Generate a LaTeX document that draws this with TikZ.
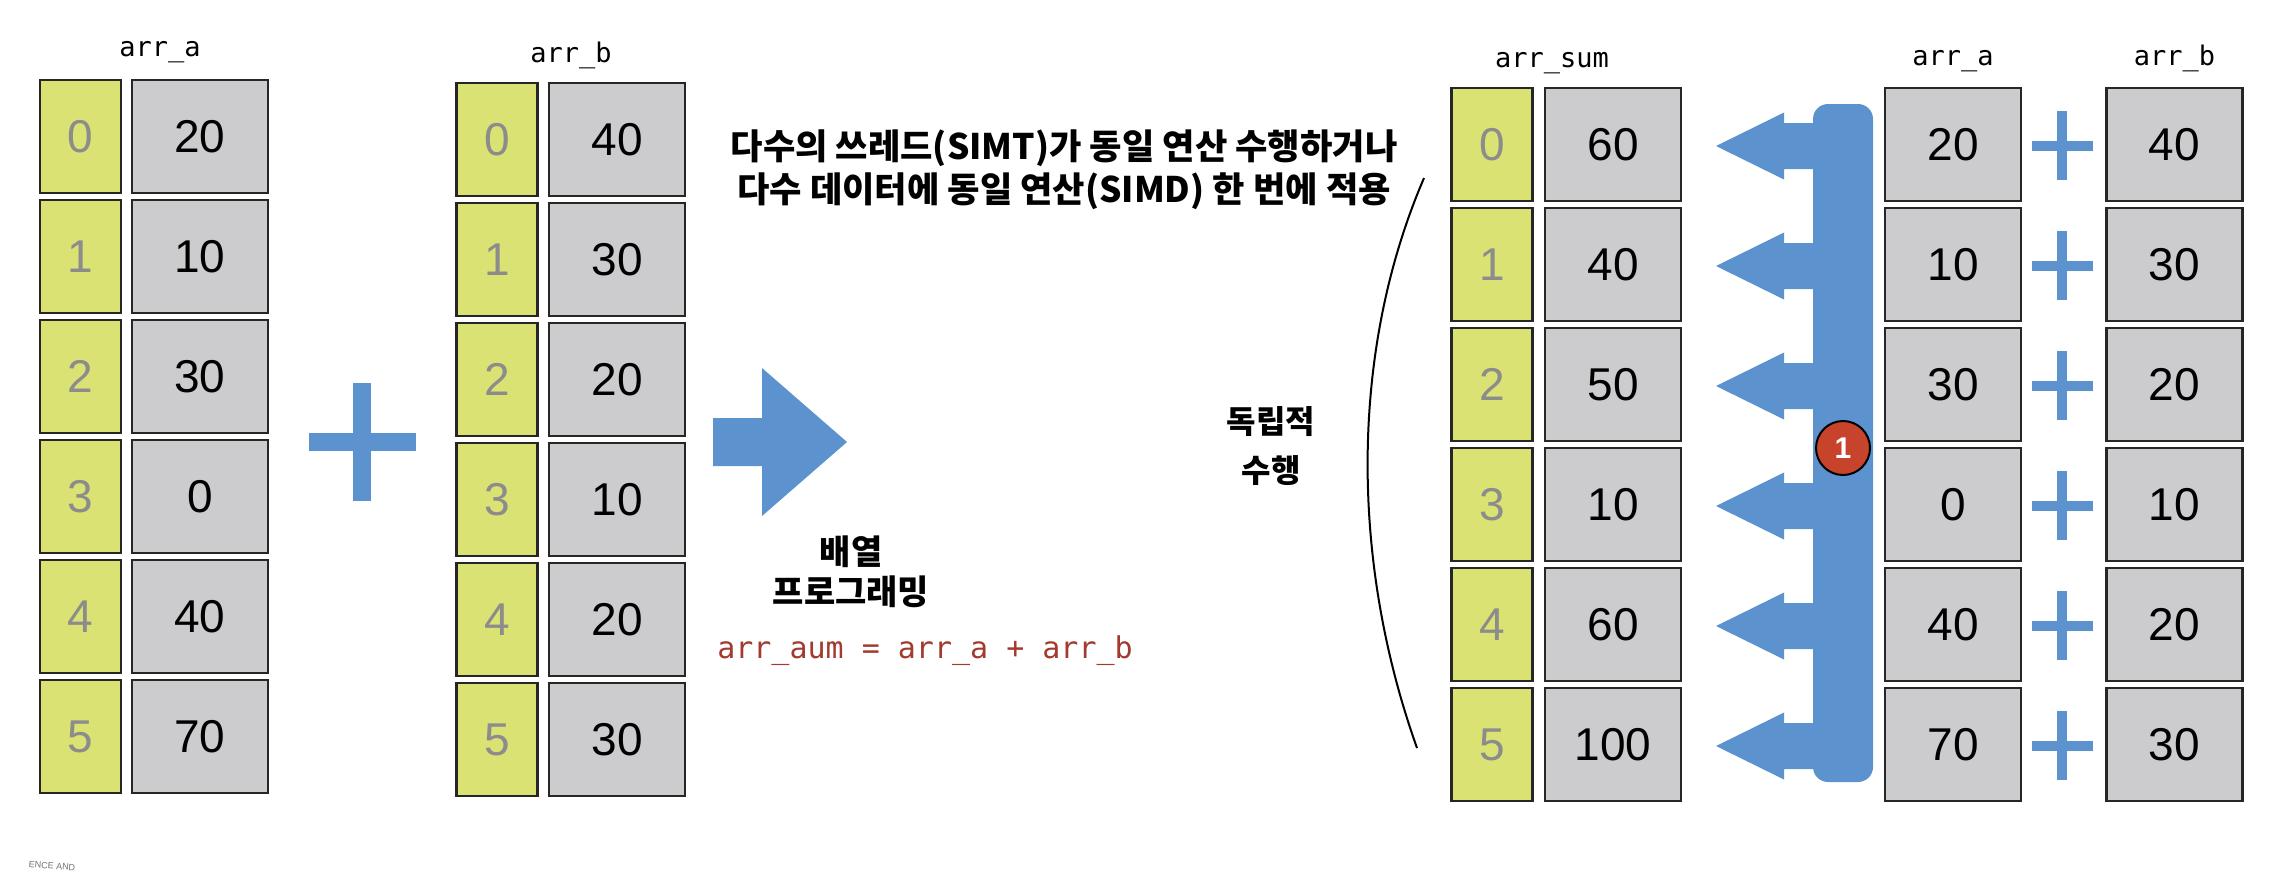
\documentclass[tikz,border=0pt]{standalone}
\usepackage{fontspec}
\setmainfont{Liberation Sans}
\setmonofont{DejaVu Sans Mono}
\newfontfamily\kr{Noto Sans CJK KR}
\usetikzlibrary{positioning, calc}

\definecolor{idxyellow}{RGB}{217,226,114}
\definecolor{cellgray}{RGB}{204,204,206}
\definecolor{opblue}{RGB}{92,147,206}
\definecolor{codered}{RGB}{163,58,48}
\definecolor{badgered}{RGB}{200,67,43}
\definecolor{idxgray}{RGB}{140,140,140}

\begin{document}
\begin{tikzpicture}[
    x=0.5pt, y=-0.5pt,
    idxcell/.style={
        draw=black!85,
        line width=1.3pt,
        fill=idxyellow,
        minimum width=40.5pt,
        minimum height=56.5pt,
        inner sep=0pt,
        text=idxgray,
        font=\fontsize{23}{23}\selectfont
    },
    valcell/.style={
        idxcell,
        fill=cellgray,
        minimum width=68pt,
        text=black
    },
    arrlabel/.style={
        font=\ttfamily\fontsize{13.5}{14}\selectfont,
        inner sep=1pt
    },
    krtext/.style={
        font=\kr\bfseries\fontsize{17.6}{21.5}\selectfont,
        align=center,
        inner sep=0pt
    },
    plusbar/.style={opblue, line width=9pt},
    smallplus/.style={opblue, line width=5.25pt},
    fatarrow/.style={fill=opblue},
    badge/.style={
        circle,
        draw=black,
        line width=1pt,
        fill=badgered,
        minimum size=27pt,
        inner sep=0pt,
        text=white,
        font=\bfseries\fontsize{15}{15}\selectfont
    }
]
\useasboundingbox (0,0) rectangle (2290,874);

% Left arrays
\foreach \v [count=\i from 0] in {20,10,30,0,40,70} {
    \node[idxcell] (la-i\i) at (80.5, 136.5+120*\i) {\i};
    \node[valcell] (la-v\i) at (200, 136.5+120*\i) {\v};
}
\foreach \v [count=\i from 0] in {40,30,20,10,20,30} {
    \node[idxcell] (lb-i\i) at (497, 139.5+120*\i) {\i};
    \node[valcell] (lb-v\i) at (617, 139.5+120*\i) {\v};
}
\node[arrlabel] (la-name) at (160,52) {arr\_a};
\node[arrlabel] (lb-name) at (571,55) {arr\_b};

% Big plus and arrow
\coordinate (plus) at (362,442);
\draw[plusbar] (plus) ++(-53,0) -- ++(107,0);
\draw[plusbar] (plus) ++(0,-59) -- ++(0,118);
\fill[fatarrow] (713,418) -- (762,418) -- (762,368) -- (847,442)
    -- (762,516) -- (762,466) -- (713,466) -- cycle;

\node[krtext, font=\kr\bfseries\fontsize{17}{20}\selectfont] (arrprog) at (851,572) {배열\\프로그래밍};
\node[font=\ttfamily\fontsize{15}{15}\selectfont, text=codered] (code) at (925,651) {arr\_aum = arr\_a + arr\_b};

% Explanation texts
\node[krtext] (simt) at (1064,170) {다수의 쓰레드(SIMT)가 동일 연산 수행하거나\\다수 데이터에 동일 연산(SIMD) 한 번에 적용};
\node[krtext, font=\kr\bfseries\fontsize{16}{24.5}\selectfont] (indep) at (1271,446) {독립적\\수행};
\coordinate (arc-top) at (1424,178);
\coordinate (arc-bot) at (1417,748);
\draw[line width=1pt] (arc-top) .. controls (1350,350) and (1350,560) .. (arc-bot);

% Right arrays
\foreach \s/\a/\b [count=\i from 0] in {60/20/40,40/10/30,50/30/20,10/0/10,60/40/20,100/70/30} {
    \node[idxcell] (rs-i\i) at (1492, 144.5+120*\i) {\i};
    \node[valcell] (rs-v\i) at (1613, 144.5+120*\i) {\s};
    \node[valcell] (ra-v\i) at (1953, 144.5+120*\i) {\a};
    \node[valcell] (rb-v\i) at (2174.5, 144.5+120*\i) {\b};
    \coordinate (rp\i) at (2062, 146+120*\i);
    \draw[smallplus] (rp\i) ++(-30,0) -- ++(61,0);
    \draw[smallplus] (rp\i) ++(0,-35) -- ++(0,69);
}
\node[arrlabel] (rs-name) at (1552,63) {arr\_sum};
\node[arrlabel, above=6pt of ra-v0] (ra-name) {arr\_a};
\node[arrlabel, above=6pt of rb-v0] (rb-name) {arr\_b};

% Comb of arrows
\fill[opblue, rounded corners=7.5pt] (1813,104) rectangle (1873,782);
\foreach \i in {0,...,5} {
    \pgfmathsetmacro\yc{146+120*\i}
    \fill[fatarrow] (1820,\yc-23) -- (1784,\yc-23) -- (1784,\yc-33.5) -- (1716,\yc)
        -- (1784,\yc+33.5) -- (1784,\yc+23) -- (1820,\yc+23) -- cycle;
}
\node[badge] (one) at (1843,448) {1};

% Watermark fragment
\node[font=\fontsize{4.5}{5}\selectfont, text=black!55, rotate=-4] (wm) at (52,866) {ENCE AND};

\end{tikzpicture}
\end{document}
